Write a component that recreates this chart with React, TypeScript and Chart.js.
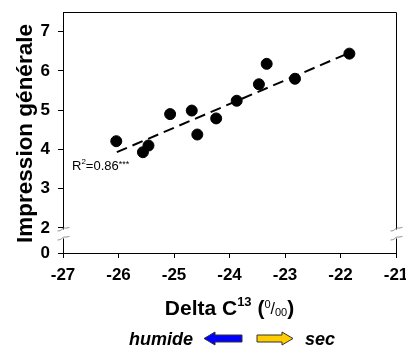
import React, { useEffect, useRef } from "react";
import { Chart, registerables } from "chart.js";

Chart.register(...registerables);

// Data
const deltaC13: number[] = [-26.04, -25.56, -25.46, -25.07, -24.68, -24.58, -24.24, -23.87, -23.47, -23.33, -22.82, -21.84];
const impression: number[] = [4.21, 3.93, 4.1, 4.9, 4.99, 4.38, 4.79, 5.24, 5.66, 6.18, 5.8, 6.44];
const fitX: number[] = [-26.03, -21.84];
const fitY: number[] = [3.93, 6.46];
const xTicks: number[] = [-27, -26, -25, -24, -23, -22, -21];
const yTicks: number[] = [2, 3, 4, 5, 6, 7];
const yBreakZero = 1.363; // display position of "0" on broken axis
const yBreakLabel = "0";
const yTitle = "Impression générale";
const r2Text = "0.86";

const FONT = "'Liberation Sans', Arial, sans-serif";

const decorPlugin = {
  id: "decor",
  afterDraw(chart: any) {
    const ctx = chart.ctx as CanvasRenderingContext2D;
    const a = chart.chartArea;
    const ys = chart.scales.y;
    const xs = chart.scales.x;
    ctx.save();
    // top and right border
    ctx.strokeStyle = "#000";
    ctx.lineWidth = 1;
    ctx.beginPath();
    ctx.moveTo(Math.round(a.left) + 0.5, Math.round(a.top) + 0.5);
    ctx.lineTo(Math.round(a.right) + 0.5, Math.round(a.top) + 0.5);
    ctx.lineTo(Math.round(a.right) + 0.5, Math.round(a.bottom) + 0.5);
    ctx.stroke();

    // axis breaks
    const yb1 = ys.getPixelForValue(2) + 1.5;
    const yb2 = yb1 + 9;
    for (const ax of [Math.round(a.left) + 0.5, Math.round(a.right) + 0.5]) {
      ctx.fillStyle = "#fff";
      ctx.fillRect(ax - 2, yb1, 4, yb2 - yb1);
      ctx.strokeStyle = "#777";
      ctx.lineWidth = 0.8;
      for (const yy of [yb1, yb2]) {
        ctx.beginPath();
        ctx.moveTo(ax - 6, yy + 1.5);
        ctx.bezierCurveTo(ax - 2, yy + 2, ax - 1, yy - 2, ax + 1, yy - 1.5);
        ctx.bezierCurveTo(ax + 3, yy - 1, ax + 4, yy - 2, ax + 6, yy - 2);
        ctx.stroke();
      }
    }

    // R2 annotation
    ctx.fillStyle = "#000";
    ctx.textBaseline = "alphabetic";
    ctx.textAlign = "left";
    let tx = 72;
    const ty = 170;
    ctx.font = `13px ${FONT}`;
    ctx.fillText("R", tx, ty);
    tx += ctx.measureText("R").width;
    ctx.font = `8px ${FONT}`;
    ctx.fillText("2", tx, ty - 6);
    tx += ctx.measureText("2").width;
    ctx.font = `13px ${FONT}`;
    const main = "=" + r2Text;
    ctx.fillText(main, tx, ty);
    tx += ctx.measureText(main).width;
    ctx.font = `9px ${FONT}`;
    ctx.fillText("***", tx, ty - 3);

    // Y title
    ctx.save();
    ctx.translate(26, (a.top + a.bottom) / 2 + 1);
    ctx.rotate(-Math.PI / 2);
    ctx.font = `bold 22.5px ${FONT}`;
    ctx.textAlign = "center";
    ctx.textBaseline = "middle";
    ctx.fillText(yTitle, 0, 0);
    ctx.restore();

    // X title: Delta C13 (0/00)
    const parts: { t: string; f: string; dy: number }[] = [
      { t: "Delta C", f: `bold 21px ${FONT}`, dy: 0 },
      { t: "13", f: `bold 13px ${FONT}`, dy: -9 },
      { t: " (", f: `bold 21px ${FONT}`, dy: 0 },
      { t: "0", f: `11px ${FONT}`, dy: -7 },
      { t: "/", f: `16px ${FONT}`, dy: -1 },
      { t: "00", f: `11px ${FONT}`, dy: 1 },
      { t: ")", f: `bold 21px ${FONT}`, dy: 0 },
    ];
    let total = 0;
    for (const p of parts) {
      ctx.font = p.f;
      total += ctx.measureText(p.t).width;
    }
    let px = (xs.left + xs.right) / 2 - total / 2;
    const py = 315;
    ctx.textAlign = "left";
    ctx.textBaseline = "alphabetic";
    for (const p of parts) {
      ctx.font = p.f;
      ctx.fillText(p.t, px, py + p.dy);
      px += ctx.measureText(p.t).width;
    }

    // legend-like arrows
    ctx.font = `bold italic 18px ${FONT}`;
    ctx.textAlign = "right";
    ctx.fillText("humide", 193, 345);
    ctx.textAlign = "left";
    ctx.fillText("sec", 305, 345);

    const cy = 338.5;
    const drawArrow = (x0: number, x1: number, dir: number, color: string) => {
      const headLen = 11;
      const hb = x1 - dir * headLen;
      ctx.beginPath();
      ctx.moveTo(x0, cy - 3.5);
      ctx.lineTo(hb, cy - 3.5);
      ctx.lineTo(hb, cy - 6.5);
      ctx.lineTo(x1, cy);
      ctx.lineTo(hb, cy + 6.5);
      ctx.lineTo(hb, cy + 3.5);
      ctx.lineTo(x0, cy + 3.5);
      ctx.closePath();
      ctx.fillStyle = color;
      ctx.fill();
      ctx.strokeStyle = "#333";
      ctx.lineWidth = 1;
      ctx.stroke();
    };
    drawArrow(242, 204, -1, "#0000ff");
    drawArrow(257, 293, 1, "#ffcc00");

    ctx.restore();
  },
};

export default function App() {
  const ref = useRef<HTMLCanvasElement | null>(null);
  useEffect(() => {
    if (!ref.current) return;
    const chart = new Chart(ref.current, {
      type: "scatter",
      data: {
        datasets: [
          {
            type: "scatter",
            data: deltaC13.map((x, i) => ({ x, y: impression[i] })),
            backgroundColor: "#000",
            borderColor: "#000",
            pointRadius: 5.5,
            pointHoverRadius: 5.5,
            order: 0,
          },
          {
            type: "line",
            data: fitX.map((x, i) => ({ x, y: fitY[i] })),
            borderColor: "#000",
            borderWidth: 2,
            borderDash: [11, 6],
            pointRadius: 0,
            fill: false,
            order: 1,
          } as any,
        ],
      },
      options: {
        responsive: false,
        animation: false,
        layout: { padding: { top: 12, right: 10, left: 0, bottom: 0 } },
        plugins: { legend: { display: false }, tooltip: { enabled: false } },
        scales: {
          x: {
            type: "linear",
            min: -27,
            max: -21,
            afterBuildTicks: (s: any) => {
              s.ticks = xTicks.map((v) => ({ value: v }));
            },
            afterFit: (s: any) => {
              s.height = 96;
              s.paddingLeft = 0;
              s.paddingRight = 0;
            },
            grid: { display: true, drawOnChartArea: false, drawTicks: true, tickLength: 5, color: "#000" },
            border: { display: true, color: "#000", width: 1 },
            ticks: {
              color: "#000",
              font: { family: FONT, size: 17, weight: "bold" },
              padding: 7,
              maxRotation: 0,
              autoSkip: false,
            },
          },
          y: {
            type: "linear",
            min: yBreakZero,
            max: 7.5,
            afterBuildTicks: (s: any) => {
              s.ticks = [yBreakZero, ...yTicks].map((v) => ({ value: v }));
            },
            afterFit: (s: any) => {
              s.width = 63;
              s.paddingTop = 0;
              s.paddingBottom = 0;
            },
            grid: { display: true, drawOnChartArea: false, drawTicks: true, tickLength: 5, color: "#000" },
            border: { display: true, color: "#000", width: 1 },
            ticks: {
              color: "#000",
              font: { family: FONT, size: 17, weight: "bold" },
              padding: 8,
              autoSkip: false,
              callback: (v: any) => (Math.abs(v - yBreakZero) < 0.01 ? yBreakLabel : String(v)),
            },
          },
        },
      },
      plugins: [decorPlugin],
    });
    return () => chart.destroy();
  }, []);
  return (
    <div style={{ position: "fixed", left: 0, top: 0, width: 406, height: 349, background: "#fff" }}>
      <canvas ref={ref} width={406} height={349} style={{ display: "block" }} />
    </div>
  );
}
